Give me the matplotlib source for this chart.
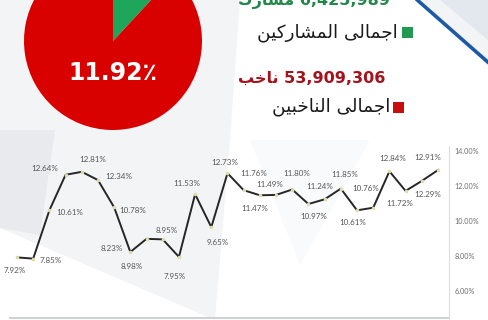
import matplotlib
matplotlib.use("Agg")
import matplotlib.pyplot as plt
from matplotlib.patches import Polygon, Rectangle

# turnout by round (%)
turnout = [7.92, 7.85, 10.61, 12.64, 12.81, 12.34, 10.78, 8.23, 8.98, 8.95,
           7.95, 11.53, 9.65, 12.73, 11.76, 11.47, 11.49, 11.80, 10.97, 11.24,
           11.85, 10.61, 10.76, 12.84, 11.72, 12.29, 12.91]
# label offsets (px, right / down) for each point label
lbl_dx = [-2, 17, 20, -21, 11, 21, 19, -19, -15, 4, -4, -8, 6, -3, 10, -5,
          -6, 4, 5, -5, 4, -4, -8, 3, -6, 6, -10]
lbl_dy = [13, 2, 2, -6, -12, -4, 3, -3, 28, -9, 20, -11, 15, -11, -17, 13,
          -10, -16, 12, -13, -14, 12, -19, -13, 13, 14, -13]
yticks = [6, 8, 10, 12, 14]

share = [11.92, 100 - 11.92]
share_label = "11.92\u066a"
participants = "6,425,989"
voters = "53,909,306"
txt_part_word = "مشارك"
txt_voter_word = "ناخب"
txt_part_total = "اجمالى المشاركين"
txt_voter_total = "اجمالى الناخبين"

RED = "#d90000"
GREEN = "#1ea65a"

# minimal arabic shaping: matplotlib has no bidi / joining support
FORMS = {
    'ا': ('\uFE8D', '\uFE8E', None, None),
    'ب': ('\uFE8F', '\uFE90', '\uFE91', '\uFE92'),
    'ج': ('\uFE9D', '\uFE9E', '\uFE9F', '\uFEA0'),
    'خ': ('\uFEA5', '\uFEA6', '\uFEA7', '\uFEA8'),
    'ر': ('\uFEAD', '\uFEAE', None, None),
    'ش': ('\uFEB5', '\uFEB6', '\uFEB7', '\uFEB8'),
    'ك': ('\uFED9', '\uFEDA', '\uFEDB', '\uFEDC'),
    'ل': ('\uFEDD', '\uFEDE', '\uFEDF', '\uFEE0'),
    'م': ('\uFEE1', '\uFEE2', '\uFEE3', '\uFEE4'),
    'ن': ('\uFEE5', '\uFEE6', '\uFEE7', '\uFEE8'),
    'ى': ('\uFEEF', '\uFEF0', None, None),
    'ي': ('\uFEF1', '\uFEF2', '\uFEF3', '\uFEF4'),
}


def shape(text):
    out = []
    for i, c in enumerate(text):
        if c not in FORMS:
            out.append(c)
            continue
        prev = text[i - 1] if i > 0 else ''
        nxt = text[i + 1] if i < len(text) - 1 else ''
        jp = prev in FORMS and FORMS[prev][2] is not None
        jn = FORMS[c][2] is not None and nxt in FORMS
        f = FORMS[c]
        if jp and jn:
            out.append(f[3])
        elif jp:
            out.append(f[1])
        elif jn:
            out.append(f[2])
        else:
            out.append(f[0])
    return ''.join(reversed(out))


W, H = 488, 320
fig = plt.figure(figsize=(W / 100, H / 100), dpi=100)
fig.patch.set_facecolor("#f3f4f6")

# background axes in pixel units, y pointing up
bg = fig.add_axes([0, 0, 1, 1])
bg.set_xlim(0, W)
bg.set_ylim(0, H)
bg.axis("off")


def P(x, y):
    return (x, H - y)


# soft decorative shapes
bg.add_patch(Polygon([P(0, 228), P(0, 320), P(215, 320)], color="white", lw=0))
bg.add_patch(Polygon([P(240, 0), P(420, 0), P(488, 60), P(488, 320), P(215, 320),
                      P(230, 140)], color="white", lw=0))
bg.add_patch(Polygon([P(0, 130), P(55, 130), P(40, 235), P(0, 228)],
                     color="#e8eaed", lw=0))
bg.add_patch(Polygon([P(250, 140), P(370, 140), P(300, 265)],
                     color="#f9fafb", lw=0))
bg.add_patch(Polygon([P(440, 0), P(488, 0), P(488, 40)], color="#e3e8ee", lw=0))
bg.plot(*zip(P(415, -2), P(490, 64)), color="#1d5aa6", lw=2.6,
        solid_capstyle="butt")

# pie
bg.pie(share, colors=[GREEN, RED], startangle=90, counterclock=False,
       center=P(113, 41), radius=89, frame=True,
       wedgeprops=dict(linewidth=0))
bg.set_xlim(0, W)
bg.set_ylim(0, H)
bg.axis("off")
bg.text(*P(113, 73), share_label, color="white", fontsize=17,
        fontweight="bold", ha="center", va="center", family="DejaVu Sans")

# legend-like texts
bg.text(*P(390, 5), shape(txt_part_word) + " " + participants, color="#23864a",
        fontsize=11.5, fontweight="bold", ha="right", va="baseline",
        family="DejaVu Sans")
bg.text(*P(398, 33), shape(txt_part_total), color="#1a1a1a", fontsize=13.2,
        ha="right", va="center", family="DejaVu Sans")
bg.add_patch(Rectangle(P(402, 38), 11, 11, color="#1f9a4e", lw=0))
bg.text(*P(385, 83), shape(txt_voter_word) + " " + voters, color="#a5121c",
        fontsize=11.5, fontweight="bold", ha="right", va="baseline",
        family="DejaVu Sans")
bg.text(*P(390, 107), shape(txt_voter_total), color="#1a1a1a", fontsize=13.2,
        ha="right", va="center", family="DejaVu Sans")
bg.add_patch(Rectangle(P(393, 113), 11, 11, color="#c80d0d", lw=0))

# chart frame lines
bg.plot(*zip(P(10, 318), P(449, 318)), color="#cfd1d4", lw=1.5)

# line chart
ax = fig.add_axes([0, 0, 449 / W, 1])
ax.patch.set_alpha(0)
x = list(range(len(turnout)))
ax.plot(x, turnout, color="#262626", lw=1.4, zorder=2)
ax.plot(x, turnout, "o", ms=2.6, mfc="#e0dcae", mec="none", zorder=3)
for i, v in enumerate(turnout):
    ax.annotate(f"{v:.2f}%", (i, v), xytext=(lbl_dx[i], -lbl_dy[i]),
                textcoords="offset pixels", ha="center", va="center",
                fontsize=5.8, color="#555555", family="Lato")
ax.set_xlim(-1.05, 26.68)
ax.set_ylim(8 - 64 / 17.5, 14 + 151 / 17.5)
for s in ["top", "left", "bottom"]:
    ax.spines[s].set_visible(False)
ax.spines["right"].set_color("#dcdde0")
ax.spines["right"].set_bounds(4, 14.3)
ax.set_xticks([])
ax.yaxis.tick_right()
ax.set_yticks(yticks)
ax.set_yticklabels([f"{t:.2f}%" for t in yticks])
ax.tick_params(axis="y", length=0, pad=4, labelsize=5.2, labelcolor="#6d6d6d")
for lab in ax.get_yticklabels():
    lab.set_family("Lato")
ax.text(26.68 + 0.25, 4, "4.00%", fontsize=5.2, color="#6d6d6d",
        family="Lato", va="center", ha="left", clip_on=False)

fig.savefig("out.png", dpi=100, facecolor=fig.get_facecolor())
